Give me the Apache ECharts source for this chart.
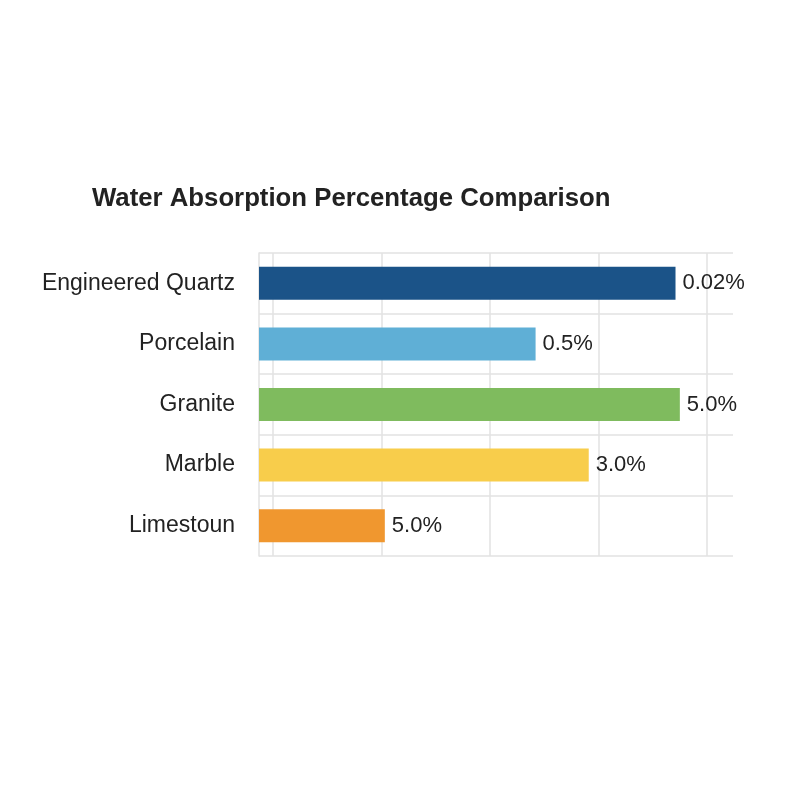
<!DOCTYPE html>
<html>
<head>
<meta charset="utf-8">
<script src="https://cdn.jsdelivr.net/npm/echarts@6/dist/echarts.min.js"></script>
<style>
  html, body { margin: 0; padding: 0; background: #fff; }
  #chart { width: 800px; height: 800px; }
</style>
</head>
<body>
<div id="chart"></div>
<script>
// materials, top to bottom
var materials = ['Engineered Quartz', 'Porcelain', 'Granite', 'Marble', 'Limestoun'];
// bar lengths as drawn (grid-line units)
var barLengths = [3.84, 2.55, 3.88, 3.04, 1.16];
// text printed at the end of each bar
var barLabels = ['0.02%', '0.5%', '5.0%', '3.0%', '5.0%'];
var barColors = ['#1b5388', '#5fafd6', '#7fbb5e', '#f8cd4b', '#f0972f'];

var dom = document.getElementById('chart');
var myChart = echarts.init(dom);

var seriesData = [];
for (var i = 0; i < materials.length; i++) {
    seriesData.push({
        value: barLengths[i],
        itemStyle: { color: barColors[i] },
        label: { formatter: barLabels[i] }
    });
}

var gridColor = '#e2e2e2';
var font = "'Liberation Sans', Arial, sans-serif";

var option = {
    backgroundColor: '#ffffff',
    animation: false,
    title: {
        text: 'Water Absorption Percentage Comparison',
        left: 87,
        top: 181,
        textStyle: {
            fontFamily: font,
            fontSize: 25.75,
            fontWeight: 'bold',
            color: '#222222'
        }
    },
    grid: [
        { left: 259, right: 67, top: 253, bottom: 244 },
        // second grid only carries the vertical grid lines
        { left: 273, right: 93, top: 253, bottom: 244 }
    ],
    xAxis: [
        {
            type: 'value',
            gridIndex: 0,
            min: 0,
            max: 4.37,
            show: false
        },
        {
            type: 'value',
            gridIndex: 1,
            min: 0,
            max: 4,
            interval: 1,
            axisLine: { show: false },
            axisTick: { show: false },
            axisLabel: { show: false },
            splitLine: { show: true, lineStyle: { color: gridColor, width: 1.5 } }
        }
    ],
    yAxis: [
        {
            type: 'category',
            gridIndex: 0,
            inverse: true,
            data: materials,
            axisLine: { show: true, lineStyle: { color: gridColor, width: 1.5 } },
            axisTick: { show: false },
            axisLabel: {
                fontFamily: font,
                fontSize: 23,
                color: '#222222',
                margin: 24
            },
            splitLine: { show: true, lineStyle: { color: gridColor, width: 1.5 } }
        },
        {
            type: 'category',
            gridIndex: 1,
            data: materials,
            show: false
        }
    ],
    series: [
        {
            type: 'bar',
            xAxisIndex: 0,
            yAxisIndex: 0,
            data: seriesData,
            barWidth: 33,
            label: {
                show: true,
                position: 'right',
                distance: 7,
                fontFamily: font,
                fontSize: 22,
                color: '#222222'
            }
        }
    ]
};

myChart.setOption(option);
</script>
</body>
</html>
